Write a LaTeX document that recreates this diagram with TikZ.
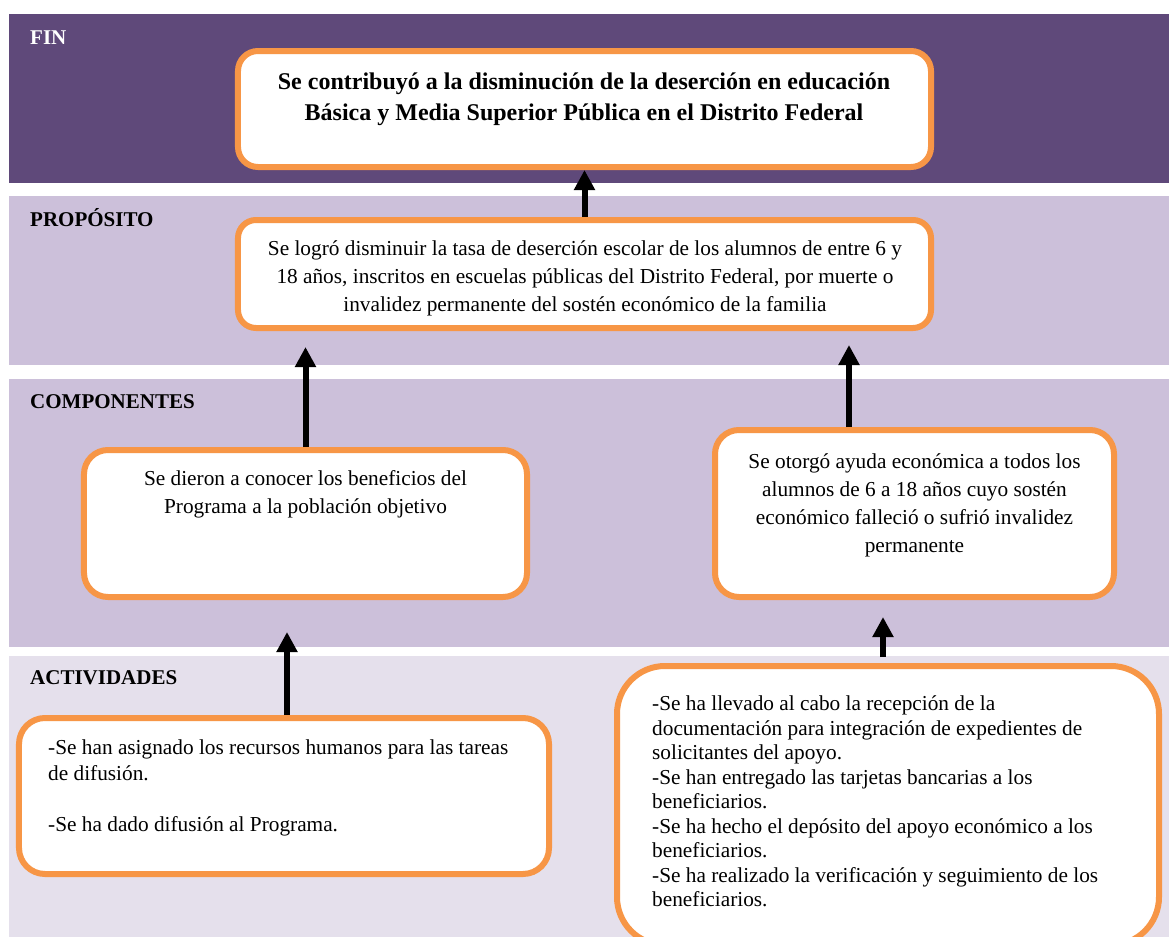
\documentclass[tikz,border=0pt]{standalone}
\usepackage{fontspec}
\setmainfont{Liberation Serif}
\usetikzlibrary{arrows.meta}
\definecolor{finband}{HTML}{5F497A}
\definecolor{midband}{HTML}{CCC0DA}
\definecolor{actband}{HTML}{E5E0EC}
\definecolor{boxorange}{HTML}{F79646}
\begin{document}
\begin{tikzpicture}[x=1bp,y=-1bp,
 box/.style={draw=boxorange, line width=6bp, fill=white, inner sep=0, rectangle},
 lbl/.style={anchor=west, inner sep=0, font=\fontsize{21bp}{25bp}\selectfont\bfseries},
 txt/.style={inner sep=0, align=center, font=\fontsize{21.3bp}{28bp}\selectfont},
 ltxt/.style={inner sep=0, align=left, anchor=west},
 arr/.style={line width=6bp, -{Triangle[width=20bp,length=20bp]}}
]
\useasboundingbox (0,0) rectangle (1169,937);
\clip (0,0) rectangle (1169,937);
% bands
\fill[finband] (9,14) rectangle (1169,183);
\fill[midband] (9,196) rectangle (1169,365);
\fill[midband] (9,379) rectangle (1169,647);
\fill[actband] (9,656) rectangle (1169,937);
% band labels
\node[lbl, text=white] (lfin) at (30,38) {FIN};
\node[lbl] (lprop) at (30,218) {PROPÓSITO};
\node[lbl] (lcomp) at (30,402) {COMPONENTES};
\node[lbl] (lact) at (30,678) {ACTIVIDADES};
% boxes
\node[box, minimum width=693bp, minimum height=116bp, rounded corners=20bp] (fin) at (584.5,109) {};
\node[box, minimum width=693bp, minimum height=108bp, rounded corners=18bp] (prop) at (584.5,274) {};
\node[box, minimum width=443bp, minimum height=147bp, rounded corners=24bp] (compL) at (305.5,523.5) {};
\node[box, minimum width=399bp, minimum height=167bp, rounded corners=24bp] (compR) at (914.5,513.5) {};
\node[box, minimum width=530bp, minimum height=156bp, rounded corners=26bp] (actL) at (284,796) {};
\node[box, minimum width=542bp, minimum height=279bp, rounded corners=48bp] (actR) at (888,805.5) {};
% texts
\node[txt, font=\fontsize{24bp}{31bp}\selectfont\bfseries] (tfin) at (584,99)
 {Se contribuyó a la disminución de la deserción en educación\\Básica y Media Superior Pública en el Distrito Federal};
\node[txt] (tprop) at (585,278)
 {Se logró disminuir la tasa de deserción escolar de los alumnos de entre 6 y\\18 años, inscritos en escuelas públicas del Distrito Federal, por muerte o\\invalidez permanente del sostén económico de la familia};
\node[txt] (tcompL) at (305.5,494.5)
 {Se dieron a conocer los beneficios del\\Programa a la población objetivo};
\node[txt] (tcompR) at (914.5,505)
 {Se otorgó ayuda económica a todos los\\alumnos de 6 a 18 años cuyo sostén\\económico falleció o sufrió invalidez\\permanente};
\node[ltxt, font=\fontsize{21.3bp}{25.5bp}\selectfont] (tactL) at (48,788)
 {-Se han asignado los recursos humanos para las tareas\\de difusión.\\[25.5bp]-Se ha dado difusión al Programa.};
\node[ltxt, font=\fontsize{21.3bp}{24.5bp}\selectfont] (tactR) at (652,801.5)
 {-Se ha llevado al cabo la recepción de la\\documentación para integración de expedientes de\\solicitantes del apoyo.\\-Se han entregado las tarjetas bancarias a los\\beneficiarios.\\-Se ha hecho el depósito del apoyo económico a los\\beneficiarios.\\-Se ha realizado la verificación y seguimiento de los\\beneficiarios.};
% arrow x positions
\coordinate (x3) at (849,0);
\coordinate (x4) at (287,0);
\coordinate (x5) at (883,0);
% arrows
\draw[arr] (prop.north) -- (fin.south);
\draw[arr, shorten >=16bp] (compL.north) -- (prop.south -| compL.north);
\draw[arr, shorten >=14bp] (compR.north -| x3) -- (prop.south -| x3);
\draw[arr, shorten >=32bp] (actL.north -| x4) -- (compL.south -| x4);
\draw[arr, shorten <=6bp, shorten >=17bp] (actR.north -| x5) -- (compR.south -| x5);
\end{tikzpicture}
\end{document}
